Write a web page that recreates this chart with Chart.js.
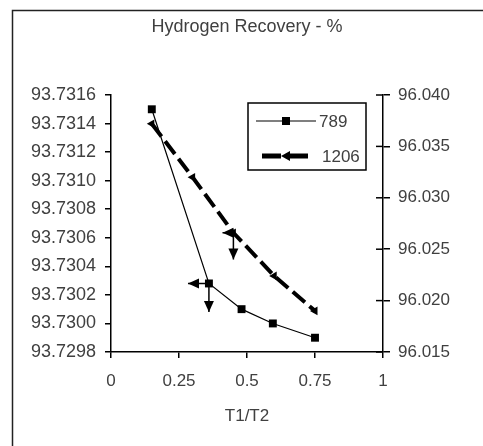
<!DOCTYPE html>
<html>
<head>
<meta charset="utf-8">
<title>Hydrogen Recovery - %</title>
<script src="https://cdn.jsdelivr.net/npm/chart.js"></script>
<style>
  body { margin: 0; background: #fff; }
  #wrap { position: relative; width: 483px; height: 446px; }
</style>
</head>
<body>
<div id="wrap"><canvas id="hydroChart" width="483" height="446"></canvas></div>
<script>
// runs (T1/T2 vs recovery %)
const x789 = [0.15, 0.36, 0.48, 0.595, 0.75];
const y789 = [93.7315, 93.73028, 93.7301, 93.7300, 93.7299];
const x1206 = [0.15, 0.30, 0.45, 0.60, 0.75];
const y1206 = [96.0372, 96.0320, 96.0266, 96.0224, 96.0190];

const xTicks = [0, 0.25, 0.5, 0.75, 1];
const leftTicks = [93.7298, 93.7300, 93.7302, 93.7304, 93.7306, 93.7308, 93.7310, 93.7312, 93.7314, 93.7316];
const rightTicks = [96.015, 96.020, 96.025, 96.030, 96.035, 96.040];

// minus-direction error bars with arrow ends
const errBars = [
  {series: 0, index: 1, xMinus: 0.077, yMinus: 0.0002},
  {series: 1, index: 2, xMinus: 0.04, yMinus: 0.0026}
];

const FONT = "'Liberation Sans', Arial, sans-serif";
const TXT = '#404040';

function pts(xs, ys) {
  return xs.map((x, i) => ({x: x, y: ys[i]}));
}

function setTicks(list) {
  return function (axis) { axis.ticks = list.map(v => ({value: v})); };
}

// outer frame (right/bottom edges run off the picture)
const framePlugin = {
  id: 'frame',
  beforeDraw(chart) {
    const ctx = chart.ctx;
    ctx.save();
    ctx.strokeStyle = '#222';
    ctx.lineWidth = 1.5;
    ctx.strokeRect(12.5, 10.5, 700, 700);
    ctx.restore();
  }
};

// right axis ticks cross the axis line, add the inner half
const crossTicks = {
  id: 'crossTicks',
  afterDraw(chart) {
    const ctx = chart.ctx, s = chart.scales.y2, r = chart.chartArea.right;
    ctx.save();
    ctx.strokeStyle = '#000';
    ctx.lineWidth = 1.5;
    rightTicks.forEach(v => {
      const y = s.getPixelForValue(v);
      ctx.beginPath();
      ctx.moveTo(r - 7, y);
      ctx.lineTo(r, y);
      ctx.stroke();
    });
    ctx.restore();
  }
};

function arrowHead(ctx, x, y, dir) {
  // dir: 'left' or 'down', tip at (x, y)
  ctx.beginPath();
  if (dir === 'left') {
    ctx.moveTo(x, y);
    ctx.lineTo(x + 11, y - 5);
    ctx.lineTo(x + 11, y + 5);
  } else {
    ctx.moveTo(x, y);
    ctx.lineTo(x - 5, y - 11);
    ctx.lineTo(x + 5, y - 11);
  }
  ctx.closePath();
  ctx.fill();
}

const errPlugin = {
  id: 'errBars',
  afterDatasetsDraw(chart) {
    const ctx = chart.ctx, xs = chart.scales.x;
    ctx.save();
    ctx.strokeStyle = '#000';
    ctx.fillStyle = '#000';
    ctx.lineWidth = 1.5;
    errBars.forEach(e => {
      const ds = chart.data.datasets[e.series];
      const ys = chart.scales[ds.yAxisID];
      const p = ds.data[e.index];
      const px = xs.getPixelForValue(p.x), py = ys.getPixelForValue(p.y);
      const lx = xs.getPixelForValue(p.x - e.xMinus);
      const dy = ys.getPixelForValue(p.y - e.yMinus);
      ctx.beginPath();
      ctx.moveTo(px, py);
      ctx.lineTo(lx, py);
      ctx.moveTo(px, py);
      ctx.lineTo(px, dy);
      ctx.stroke();
      arrowHead(ctx, lx, py, 'left');
      arrowHead(ctx, px, dy, 'down');
    });
    ctx.restore();
  }
};

// boxed legend inside the plot
const boxLegend = {
  id: 'boxLegend',
  afterDraw(chart) {
    const ctx = chart.ctx;
    const bx = 248, by = 103, bw = 118, bh = 67;
    ctx.save();
    ctx.strokeStyle = '#000';
    ctx.lineWidth = 1.5;
    ctx.strokeRect(bx, by, bw, bh);
    ctx.font = '17px ' + FONT;
    ctx.fillStyle = TXT;
    ctx.textBaseline = 'middle';
    const ds0 = chart.data.datasets[0], ds1 = chart.data.datasets[1];
    // 789
    let y = by + 18;
    ctx.lineWidth = ds0.borderWidth;
    ctx.beginPath();
    ctx.moveTo(bx + 8, y);
    ctx.lineTo(bx + 68, y);
    ctx.stroke();
    ctx.fillStyle = '#000';
    ctx.fillRect(bx + 34, y - 4, 8, 8);
    ctx.fillStyle = TXT;
    ctx.fillText(ds0.label, bx + 71, y + 1);
    // 1206
    y = by + 53;
    ctx.fillStyle = '#000';
    ctx.fillRect(bx + 14, y - 2.5, 19, 5);
    ctx.fillRect(bx + 40, y - 2.5, 20, 5);
    ctx.beginPath();
    ctx.moveTo(bx + 33, y);
    ctx.lineTo(bx + 42, y - 5);
    ctx.lineTo(bx + 42, y + 5);
    ctx.closePath();
    ctx.fill();
    ctx.fillStyle = TXT;
    ctx.fillText(ds1.label, bx + 74, y + 1);
    ctx.restore();
  }
};

const axisGrid = {drawOnChartArea: false, drawTicks: true, color: '#000', lineWidth: 1.5};

new Chart(document.getElementById('hydroChart'), {
  type: 'scatter',
  data: {
    datasets: [{
      label: '789',
      data: pts(x789, y789),
      yAxisID: 'y',
      showLine: true,
      borderColor: '#000',
      backgroundColor: '#000',
      borderWidth: 1.2,
      pointStyle: 'rect',
      pointRadius: 5.6,
      pointBorderWidth: 0
    }, {
      label: '1206',
      data: pts(x1206, y1206),
      yAxisID: 'y2',
      showLine: true,
      borderColor: '#000',
      backgroundColor: '#000',
      borderWidth: 4,
      borderDash: [16, 6],
      pointStyle: 'triangle',
      pointRotation: 270,
      pointRadius: 5,
      pointBorderWidth: 0
    }]
  },
  options: {
    responsive: false,
    animation: false,
    layout: {padding: 0},
    plugins: {
      legend: {display: false},
      tooltip: {enabled: false},
      title: {
        display: true,
        fullSize: false,
        text: 'Hydrogen Recovery - %',
        color: TXT,
        font: {family: FONT, size: 18, weight: 'normal'},
        padding: {top: 16, bottom: 57.4}
      }
    },
    scales: {
      x: {
        type: 'linear',
        position: 'bottom',
        min: 0,
        max: 1,
        afterBuildTicks: setTicks(xTicks),
        grid: Object.assign({tickLength: 6}, axisGrid),
        border: {color: '#000', width: 1.5},
        ticks: {color: TXT, font: {family: FONT, size: 17}, padding: 13, callback: v => String(v)},
        title: {display: true, text: 'T1/T2', color: TXT, font: {family: FONT, size: 17}, padding: {top: 19, bottom: 19}},
        afterFit: s => { s.height = 94; }
      },
      y: {
        type: 'linear',
        position: 'left',
        min: 93.7298,
        max: 93.7316,
        afterBuildTicks: setTicks(leftTicks),
        grid: Object.assign({tickLength: 6}, axisGrid),
        border: {color: '#000', width: 1.5},
        ticks: {color: TXT, font: {family: FONT, size: 18}, padding: 9, callback: v => v.toFixed(4)},
        afterFit: s => { s.width = 111; }
      },
      y2: {
        type: 'linear',
        position: 'right',
        min: 96.015,
        max: 96.040,
        afterBuildTicks: setTicks(rightTicks),
        grid: Object.assign({tickLength: 7}, axisGrid),
        border: {color: '#000', width: 1.5},
        ticks: {color: TXT, font: {family: FONT, size: 17}, padding: 8, callback: v => v.toFixed(3)},
        afterFit: s => { s.width = 100; }
      }
    }
  },
  plugins: [framePlugin, crossTicks, errPlugin, boxLegend]
});
</script>
</body>
</html>
